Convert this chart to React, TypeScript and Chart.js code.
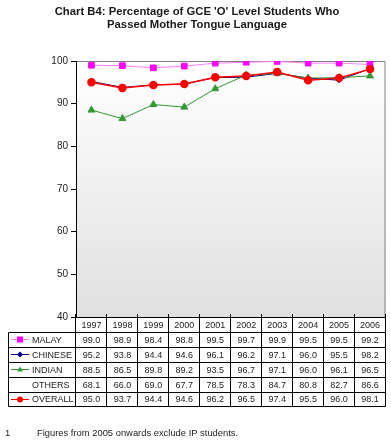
import React, { useEffect, useRef } from "react";
import { Chart, registerables } from "chart.js";

Chart.register(...registerables);

const years = ["1997", "1998", "1999", "2000", "2001", "2002", "2003", "2004", "2005", "2006"];
const malay = [99.0, 98.9, 98.4, 98.8, 99.5, 99.7, 99.9, 99.5, 99.5, 99.2];
const chinese = [95.2, 93.8, 94.4, 94.6, 96.1, 96.2, 97.1, 96.0, 95.5, 98.2];
const indian = [88.5, 86.5, 89.8, 89.2, 93.5, 96.7, 97.1, 96.0, 96.1, 96.5];
const others = [68.1, 66.0, 69.0, 67.7, 78.5, 78.3, 84.7, 80.8, 82.7, 86.6];
const overall = [95.0, 93.7, 94.4, 94.6, 96.2, 96.5, 97.4, 95.5, 96.0, 98.1];

const titleLines = ["Chart B4: Percentage of GCE 'O' Level Students Who", "Passed Mother Tongue Language"];
const footNum = "1";
const footText = "Figures from 2005 onwards exclude IP students.";

type Row = { name: string; values: number[]; line?: string; marker?: string; shape?: string };
const rows: Row[] = [
  { name: "MALAY", values: malay, line: "#ff80ff", marker: "#ff00ff", shape: "rect" },
  { name: "CHINESE", values: chinese, line: "#000080", marker: "#000080", shape: "rectRot" },
  { name: "INDIAN", values: indian, line: "#339933", marker: "#339933", shape: "triangle" },
  { name: "OTHERS", values: others },
  { name: "OVERALL", values: overall, line: "#ff0000", marker: "#ff0000", shape: "circle" },
];

const FONT = "'Liberation Sans', Arial, sans-serif";

function drawMarker(ctx: CanvasRenderingContext2D, shape: string, x: number, y: number, color: string) {
  ctx.fillStyle = color;
  ctx.beginPath();
  if (shape === "rect") {
    ctx.rect(x - 3, y - 3, 6, 6);
  } else if (shape === "rectRot") {
    ctx.moveTo(x, y - 3);
    ctx.lineTo(x + 3, y);
    ctx.lineTo(x, y + 3);
    ctx.lineTo(x - 3, y);
    ctx.closePath();
  } else if (shape === "triangle") {
    ctx.moveTo(x, y - 3);
    ctx.lineTo(x + 3, y + 2);
    ctx.lineTo(x - 3, y + 2);
    ctx.closePath();
  } else {
    ctx.arc(x, y, 3, 0, Math.PI * 2);
  }
  ctx.fill();
}

const decor = {
  id: "decor",
  beforeDraw(chart: any) {
    const { ctx, chartArea: a } = chart;
    ctx.save();
    ctx.fillStyle = "#ffffff";
    ctx.fillRect(0, 0, chart.width, chart.height);
    const g = ctx.createLinearGradient(0, a.top, 0, a.bottom);
    g.addColorStop(0, "#ffffff");
    g.addColorStop(1, "#e0e0e0");
    ctx.fillStyle = g;
    ctx.fillRect(a.left, a.top, a.right - a.left, a.bottom - a.top);
    ctx.strokeStyle = "#808080";
    ctx.lineWidth = 1;
    ctx.beginPath();
    ctx.moveTo(a.left, a.top + 0.5);
    ctx.lineTo(a.right - 0.5, a.top + 0.5);
    ctx.lineTo(a.right - 0.5, a.bottom);
    ctx.stroke();
    ctx.restore();
  },
  afterDraw(chart: any) {
    const { ctx, chartArea: a } = chart;
    const n = years.length;
    const colW = (a.right - a.left) / n;
    const rowH = 14.9;
    const top = a.bottom;
    const legLeft = 8.5;
    ctx.save();
    ctx.fillStyle = "#1a1a1a";
    ctx.font = `bold 11.3px ${FONT}`;
    ctx.textAlign = "center";
    ctx.textBaseline = "middle";
    ctx.fillText(titleLines[0], 197, 12);
    ctx.fillText(titleLines[1], 197, 25);

    ctx.strokeStyle = "#000000";
    ctx.lineWidth = 1;
    ctx.beginPath();
    const bottom = top + rowH * (rows.length + 1);
    ctx.moveTo(a.left, Math.round(top) + 0.5);
    ctx.lineTo(a.right, Math.round(top) + 0.5);
    for (let r = 1; r <= rows.length + 1; r++) {
      const y = Math.round(top + r * rowH) + 0.5;
      ctx.moveTo(legLeft, y);
      ctx.lineTo(a.right, y);
    }
    for (let c = 0; c <= n; c++) {
      const x = Math.round(a.left + c * colW) - 0.5;
      ctx.moveTo(x, top - 3);
      ctx.lineTo(x, Math.round(bottom) + 0.5);
    }
    ctx.moveTo(legLeft, Math.round(top + rowH) + 0.5);
    ctx.lineTo(legLeft, Math.round(bottom) + 0.5);
    ctx.stroke();

    ctx.font = `9px ${FONT}`;
    ctx.fillStyle = "#222222";
    ctx.textAlign = "center";
    for (let c = 0; c < n; c++) {
      const x = chart.scales.x.getPixelForValue(c);
      ctx.fillText(years[c], x, top + rowH / 2 + 1);
    }
    rows.forEach((row, r) => {
      const yc = top + (r + 1) * rowH + rowH / 2 + 1;
      ctx.fillStyle = "#222222";
      ctx.textAlign = "center";
      for (let c = 0; c < n; c++) {
        const x = chart.scales.x.getPixelForValue(c);
        ctx.fillText(row.values[c].toFixed(1), x, yc);
      }
      ctx.textAlign = "left";
      ctx.fillText(row.name, 32, yc);
      if (row.line) {
        ctx.strokeStyle = row.line;
        ctx.lineWidth = 1;
        ctx.beginPath();
        ctx.moveTo(11, Math.round(yc - 1) + 0.5);
        ctx.lineTo(29, Math.round(yc - 1) + 0.5);
        ctx.stroke();
        drawMarker(ctx, row.shape!, 20, Math.round(yc - 1) + 0.5, row.marker!);
      }
    });

    ctx.fillStyle = "#222222";
    ctx.font = `9.4px ${FONT}`;
    ctx.textAlign = "left";
    ctx.fillText(footNum, 5, 433);
    ctx.fillText(footText, 37, 433);
    ctx.restore();
  },
};

export default function App() {
  const ref = useRef<HTMLCanvasElement>(null);
  useEffect(() => {
    const mk = (r: Row) => ({
      label: r.name,
      data: r.values,
      borderColor: r.line,
      backgroundColor: r.marker,
      pointBackgroundColor: r.marker,
      pointBorderColor: r.marker,
      pointStyle: r.shape,
      pointRadius: r.shape === "rectRot" ? 2.5 : r.shape === "circle" ? 3.5 : 4,
      borderWidth: r.shape === "circle" ? 1.5 : 1,
      tension: 0,
    });
    const byName = (nm: string) => rows.find((r) => r.name === nm)!;
    const order = ["OVERALL", "MALAY", "INDIAN", "CHINESE"];
    const chart = new Chart(ref.current!, {
      type: "line",
      data: {
        labels: years,
        datasets: order.map((nm) => mk(byName(nm))) as any,
      },
      options: {
        responsive: false,
        animation: false,
        layout: { padding: { top: 61, bottom: 124, left: 0, right: 5 } },
        plugins: { legend: { display: false }, title: { display: false }, tooltip: { enabled: false } },
        scales: {
          x: { type: "category", offset: true, display: false },
          y: {
            min: 40,
            max: 100,
            afterFit: (s: any) => {
              s.width = 76;
            },
            ticks: { stepSize: 10, color: "#222222", font: { family: FONT, size: 10 }, padding: 3 },
            grid: { drawOnChartArea: false, drawTicks: true, tickLength: 5, tickColor: "#000000" },
            border: { display: true, color: "#000000", width: 1 },
          },
        },
      } as any,
      plugins: [decor],
    });
    return () => chart.destroy();
  }, []);
  return (
    <div style={{ position: "fixed", left: 0, top: 0, width: 391, height: 441, background: "#fff" }}>
      <canvas ref={ref} width={391} height={441} />
    </div>
  );
}
